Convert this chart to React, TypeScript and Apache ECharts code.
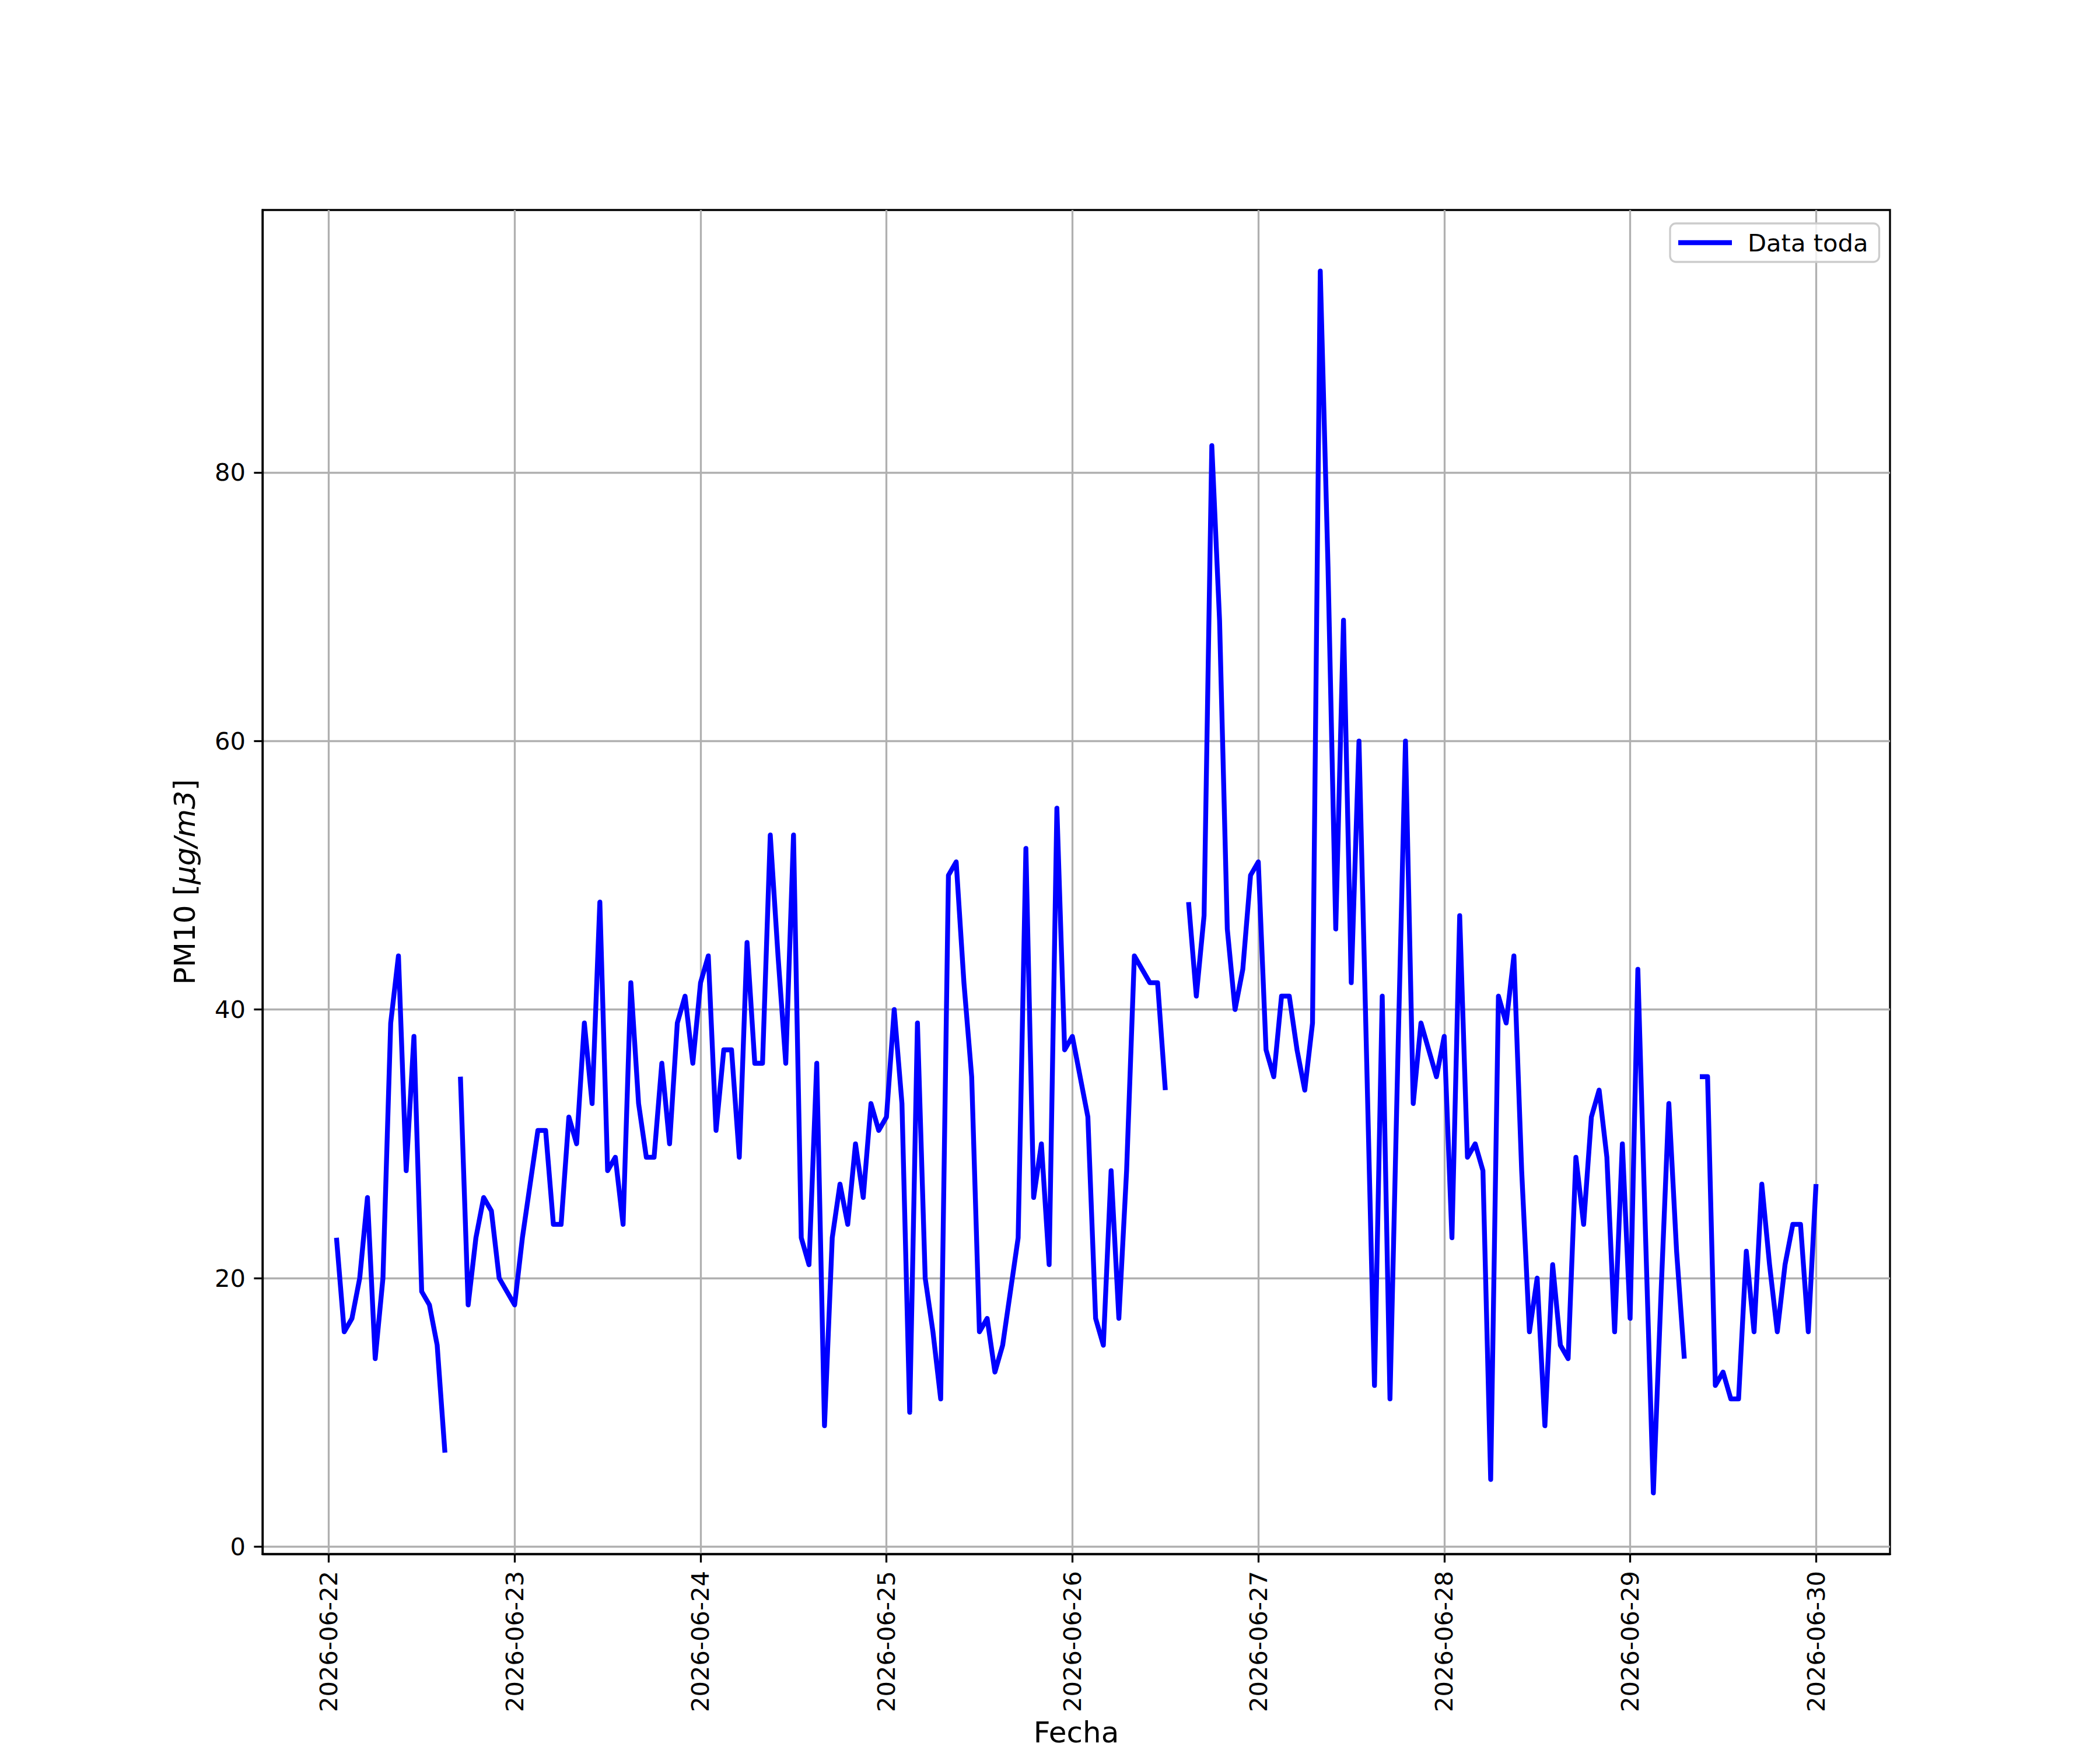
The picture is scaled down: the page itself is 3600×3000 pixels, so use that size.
import React, { useEffect, useRef } from "react";
import * as echarts from "echarts";

// Hourly PM10 values; each day array covers 01:00 .. 24:00 (= next day's 00:00)
const pm10Jun22 = [23, 16, 17, 20, 26, 14, 20, 39, 44, 28, 38, 19, 18, 15, 7, null, 35, 18, 23, 26, 25, 20, 19, 18];
const pm10Jun23 = [23, 27, 31, 31, 24, 24, 32, 30, 39, 33, 48, 28, 29, 24, 42, 33, 29, 29, 36, 30, 39, 41, 36, 42];
const pm10Jun24 = [44, 31, 37, 37, 29, 45, 36, 36, 53, 44, 36, 53, 23, 21, 36, 9, 23, 27, 24, 30, 26, 33, 31, 32];
const pm10Jun25 = [40, 33, 10, 39, 20, 16, 11, 50, 51, 42, 35, 16, 17, 13, 15, 19, 23, 52, 26, 30, 21, 55, 37, 38];
const pm10Jun26 = [35, 32, 17, 15, 28, 17, 28, 44, 43, 42, 42, 34, null, null, 48, 41, 47, 82, 69, 46, 40, 43, 50, 51];
const pm10Jun27 = [37, 35, 41, 41, 37, 34, 39, 95, 73, 46, 69, 42, 60, 36, 12, 41, 11, 36, 60, 33, 39, 37, 35, 38];
const pm10Jun28 = [23, 47, 29, 30, 28, 5, 41, 39, 44, 28, 16, 20, 9, 21, 15, 14, 29, 24, 32, 34, 29, 16, 30, 17];
const pm10Jun29 = [43, 23, 4, 19, 33, 22, 14, null, 35, 35, 12, 13, 11, 11, 22, 16, 27, 21, 16, 21, 24, 24, 16, 27];

const dayLabels = [
  "2026-06-22", "2026-06-23", "2026-06-24", "2026-06-25", "2026-06-26",
  "2026-06-27", "2026-06-28", "2026-06-29", "2026-06-30",
];
const yTicks = [0, 20, 40, 60, 80];
const seriesName = "Data toda";

const dayArrays = [pm10Jun22, pm10Jun23, pm10Jun24, pm10Jun25, pm10Jun26, pm10Jun27, pm10Jun28, pm10Jun29];

const FONT = "DejaVu Sans";
const FS = 41.67;
const FS_NAME = 50;

export default function App() {
  const ref = useRef<HTMLDivElement>(null);

  useEffect(() => {
    document.body.style.margin = "0";
    if (!ref.current) return;
    const chart = echarts.init(ref.current, undefined, { renderer: "svg" });

    const data: (number | null)[][] = [];
    dayArrays.forEach((arr, d) => {
      arr.forEach((v, i) => {
        data.push([d * 24 + i + 1, v]);
      });
    });
    const xs = data.map((p) => p[0] as number);
    const vals = data.map((p) => p[1]).filter((v) => v !== null) as number[];
    const xMinD = Math.min(...xs), xMaxD = Math.max(...xs);
    const yMinD = Math.min(...vals), yMaxD = Math.max(...vals);
    const xm = (xMaxD - xMinD) * 0.05;
    const ym = (yMaxD - yMinD) * 0.05;
    const xTicks = dayLabels.map((_, i) => i * 24);

    chart.setOption({
      animation: false,
      backgroundColor: "#ffffff",
      grid: {
        left: 450,
        top: 360,
        width: 2790,
        height: 2310,
        show: true,
        borderColor: "#000000",
        borderWidth: 3.3,
        backgroundColor: "transparent",
      },
      legend: {
        show: true,
        left: 2863,
        top: 383,
        data: [{ name: seriesName, icon: "rect" }],
        itemWidth: 92,
        itemHeight: 8.33,
        padding: [12, 19, 12, 14],
        borderColor: "#cccccc",
        borderWidth: 3.3,
        borderRadius: 10,
        backgroundColor: "rgba(255,255,255,0.8)",
        textStyle: { fontFamily: FONT, fontSize: FS, color: "#000", padding: [0, 0, 0, 22] },
      },
      xAxis: {
        type: "value",
        min: xMinD - xm,
        max: xMaxD + xm,
        name: "Fecha",
        nameLocation: "middle",
        nameGap: 281,
        nameTextStyle: { fontFamily: FONT, fontSize: FS_NAME, color: "#000" },
        axisLine: { show: true, onZero: false, lineStyle: { color: "#000", width: 3.3 } },
        axisTick: {
          show: true,
          length: 14.6,
          lineStyle: { color: "#000", width: 3.3 },
          customValues: xTicks,
        },
        axisLabel: {
          show: true,
          rotate: 90,
          margin: 29,
          fontFamily: FONT,
          fontSize: FS,
          color: "#000",
          customValues: xTicks,
          formatter: (v: number) => dayLabels[Math.round(v / 24)] ?? "",
        },
        splitLine: { show: true, lineStyle: { color: "#b0b0b0", width: 3.3 } },
      },
      yAxis: {
        type: "value",
        min: yMinD - ym,
        max: yMaxD + ym,
        name: "PM10 [{it|μg/m3}]",
        nameLocation: "middle",
        nameGap: 108,
        nameTextStyle: {
          fontFamily: FONT,
          fontSize: FS_NAME,
          color: "#000",
          rich: { it: { fontFamily: FONT, fontSize: FS_NAME, fontStyle: "italic", color: "#000" } },
        },
        axisLine: { show: true, onZero: false, lineStyle: { color: "#000", width: 3.3 } },
        axisTick: {
          show: true,
          length: 14.6,
          lineStyle: { color: "#000", width: 3.3 },
          customValues: yTicks,
        },
        axisLabel: {
          show: true,
          margin: 29,
          fontFamily: FONT,
          fontSize: FS,
          color: "#000",
          customValues: yTicks,
        },
        splitLine: { show: true, lineStyle: { color: "#b0b0b0", width: 3.3 } },
      },
      series: [
        {
          name: seriesName,
          type: "line",
          data,
          showSymbol: false,
          symbol: "none",
          connectNulls: false,
          itemStyle: { color: "#0000ff" },
          lineStyle: { color: "#0000ff", width: 8.33, join: "round" },
        },
      ],
    });

    return () => chart.dispose();
  }, []);

  return <div ref={ref} style={{ width: 3600, height: 3000 }} />;
}
